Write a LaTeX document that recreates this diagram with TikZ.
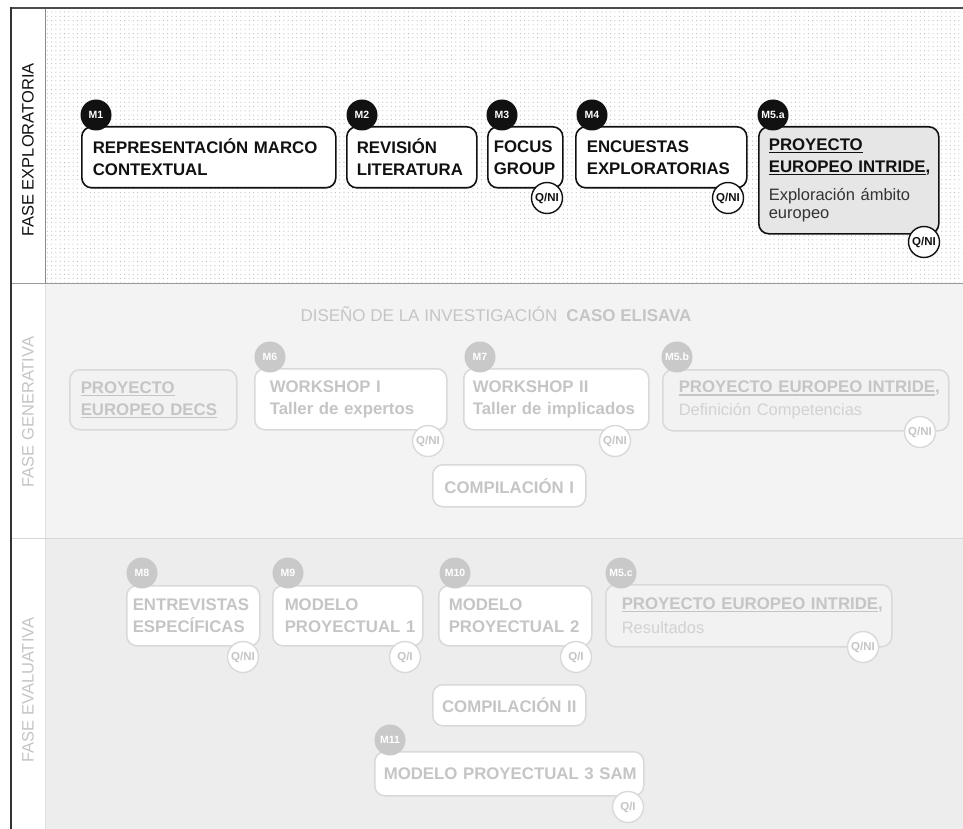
\documentclass[tikz,border=0pt]{standalone}
\usepackage{fontspec}
\setmainfont{Liberation Sans}
\usetikzlibrary{patterns.meta}

% palette
\definecolor{ink}{HTML}{111111}
\definecolor{subink}{HTML}{333333}
\definecolor{paleline}{HTML}{D9D9D9}
\definecolor{paletext}{HTML}{C5C5C5}
\definecolor{palesub}{HTML}{D2D2D2}
\definecolor{paletag}{HTML}{C9C9C9}
\definecolor{bandgen}{HTML}{F3F3F3}
\definecolor{bandeval}{HTML}{EDEDED}
\definecolor{palefill}{HTML}{F2F2F2}
\definecolor{hlfill}{HTML}{E6E6E6}

% type
\newcommand\bxfont{\fontsize{16.8}{22}\selectfont\bfseries}
\newcommand\subfnt{\fontsize{16.5}{18}\selectfont\mdseries}
\newcommand\tagfnt{\fontsize{10.5}{10}\selectfont\bfseries}
\newcommand\qfnt{\fontsize{11.5}{10}\selectfont\bfseries}
\newcommand\phasefnt{\fontsize{16.5}{18}\selectfont}
\newcommand\ulx[1]{\leavevmode\setbox0\hbox{#1}\rlap{\rule[-2.6pt]{\wd0}{1.3pt}}\box0}

\tikzset{
  x=1pt, y=-1pt,
  dims/.code n args={3}{%
    \pgfmathsetmacro\bxtw{#1-2*#3}%
    \edef\bxtmp{\noexpand\pgfkeysalso{minimum width=#1pt, minimum height=#2pt,
      inner xsep=#3pt, text width=\bxtw pt}}\bxtmp},
  box/.style={rounded corners=10pt, anchor=north west, inner ysep=0pt,
    align=left, font=\bxfont},
  boxdark/.style={box, draw=ink, line width=1.6pt, fill=white, text=ink},
  boxpale/.style={box, draw=paleline, line width=1.5pt, fill=white, text=paletext},
  tagdark/.style={circle, fill=ink, text=white, minimum size=31pt, inner sep=0pt, font=\tagfnt},
  tagpale/.style={tagdark, fill=paletag},
  qdark/.style={circle, draw=ink, fill=white, line width=1.4pt, minimum size=31pt,
    inner sep=0pt, text=ink, font=\qfnt},
  qpale/.style={qdark, draw=paleline, text=paletext},
  phase/.style={rotate=90, font=\phasefnt},
}

\begin{document}
\hyphenpenalty=10000 \exhyphenpenalty=10000
\begin{tikzpicture}
\useasboundingbox (0,0) rectangle (963,829);

% ---- bands ----
\fill[white] (0,0) rectangle (963,829);
\fill[pattern={Dots[distance=4.3pt, radius=0.55pt]}, pattern color=black!28] (45,8) rectangle (963,283);
\fill[bandgen] (45,283) rectangle (963,538);
\fill[bandeval] (45,538) rectangle (963,829);

% ---- frame ----
\draw[black!45, line width=1pt] (45,8) -- (45,283);
\draw[black!12, line width=1pt] (45,283) -- (45,829);
\draw[black!40, line width=1pt] (11,283) -- (963,283);
\draw[black!16, line width=1pt] (11,538) -- (963,538);
\draw[black!70, line width=2pt] (11,8) -- (963,8);
\draw[black!80, line width=1.5pt] (11,7) -- (11,829);

% ---- phase labels ----
\node[phase, text=ink] (fexp) at (28,150) {FASE EXPLORATORIA};
\node[phase, text=paletext] (fgen) at (28,412) {FASE GENERATIVA};
\node[phase, text=paletext] (feva) at (28,690) {FASE EVALUATIVA};

% ---- exploratory phase ----
\node[boxdark, dims={254}{61}{11}] (m1) at (81,126) {REPRESENTACIÓN MARCO\\CONTEXTUAL};
\node[tagdark] (m1tag) at (96,115) {M1};

\node[boxdark, dims={130}{61}{10}] (m2) at (346,126) {REVISIÓN\\LITERATURA};
\node[tagdark] (m2tag) at (362,115) {M2};

\node[boxdark, dims={75}{61}{6}] (m3) at (487,126) {FOCUS\\GROUP};
\node[tagdark] (m3tag) at (502,115) {M3};
\node[qdark] (m3q) at (547,198) {Q/NI};

\node[boxdark, dims={171}{61}{11}] (m4) at (575,126) {ENCUESTAS\\EXPLORATORIAS};
\node[tagdark] (m4tag) at (592,115) {M4};
\node[qdark] (m4q) at (728,198) {Q/NI};

\node[boxdark, fill=hlfill, dims={180}{107}{10}] (m5a) at (758,126)
  {{\ulx{PROYECTO}\\\ulx{EUROPEO INTRIDE},\par}\vspace{10pt}%
   {\subfnt\color{subink}Exploración ámbito\\europeo\par}};
\node[tagdark] (m5atag) at (773,115) {M5.a};
\node[qdark] (m5aq) at (924,242) {Q/NI};

% ---- generative phase ----
\node[anchor=base west, text=paletext, font=\fontsize{17}{18}\selectfont] (design) at (297,321)
  {DISEÑO DE LA INVESTIGACIÓN\hspace{9pt}\textbf{CASO ELISAVA}};

\node[boxpale, fill=palefill, dims={167}{60}{11}] (decs) at (69,369)
  {\ulx{PROYECTO}\\\ulx{EUROPEO DECS}};

\node[boxpale, dims={192}{61}{15}] (m6) at (254,368) {WORKSHOP I\\Taller de expertos};
\node[tagpale] (m6tag) at (270,357) {M6};
\node[qpale] (m6q) at (428,441) {Q/NI};

\node[boxpale, dims={185}{61}{9}] (m7) at (463,368) {WORKSHOP II\\\mbox{Taller de implicados}};
\node[tagpale] (m7tag) at (480,357) {M7};
\node[qpale] (m7q) at (615,441) {Q/NI};

\node[boxpale, fill=palefill, dims={286}{61}{16}] (m5b) at (662,369)
  {{\ulx{PROYECTO EUROPEO INTRIDE},\par}\vspace{5pt}%
   {\subfnt\color{palesub}Definición Competencias\par}};
\node[tagpale] (m5btag) at (677,357) {M5.b};
\node[qpale] (m5bq) at (920,432) {Q/NI};

\node[boxpale, align=center, dims={153}{42}{8}] (comp1) at (432,464) {COMPILACIÓN I};

% ---- evaluative phase ----
\node[boxpale, dims={133}{60}{6}] (m8) at (126,585) {ENTREVISTAS\\ESPECÍFICAS};
\node[tagpale] (m8tag) at (142,573) {M8};
\node[qpale] (m8q) at (243,657) {Q/NI};

\node[boxpale, dims={150}{60}{12}] (m9) at (272,585) {MODELO\\\mbox{PROYECTUAL 1}};
\node[tagpale] (m9tag) at (288,573) {M9};
\node[qpale] (m9q) at (405,657) {Q/I};

\node[boxpale, dims={153}{60}{10}] (m10) at (438,585) {MODELO\\\mbox{PROYECTUAL 2}};
\node[tagpale] (m10tag) at (455,573) {M10};
\node[qpale] (m10q) at (576,657) {Q/I};

\node[boxpale, fill=palefill, dims={286}{62}{16}] (m5c) at (605,584)
  {{\ulx{PROYECTO EUROPEO INTRIDE},\par}\vspace{6pt}%
   {\subfnt\color{palesub}Resultados\par}};
\node[tagpale] (m5ctag) at (621,573) {M5.c};
\node[qpale] (m5cq) at (863,647) {Q/NI};

\node[boxpale, align=center, dims={153}{41}{8}] (comp2) at (432,684) {COMPILACIÓN II};

\node[boxpale, dims={269}{44}{9}] (m11) at (374,751) {\mbox{MODELO PROYECTUAL 3 SAM}};
\node[tagpale] (m11tag) at (390,740) {M11};
\node[qpale] (m11q) at (628,807) {Q/I};
\end{tikzpicture}
\end{document}
